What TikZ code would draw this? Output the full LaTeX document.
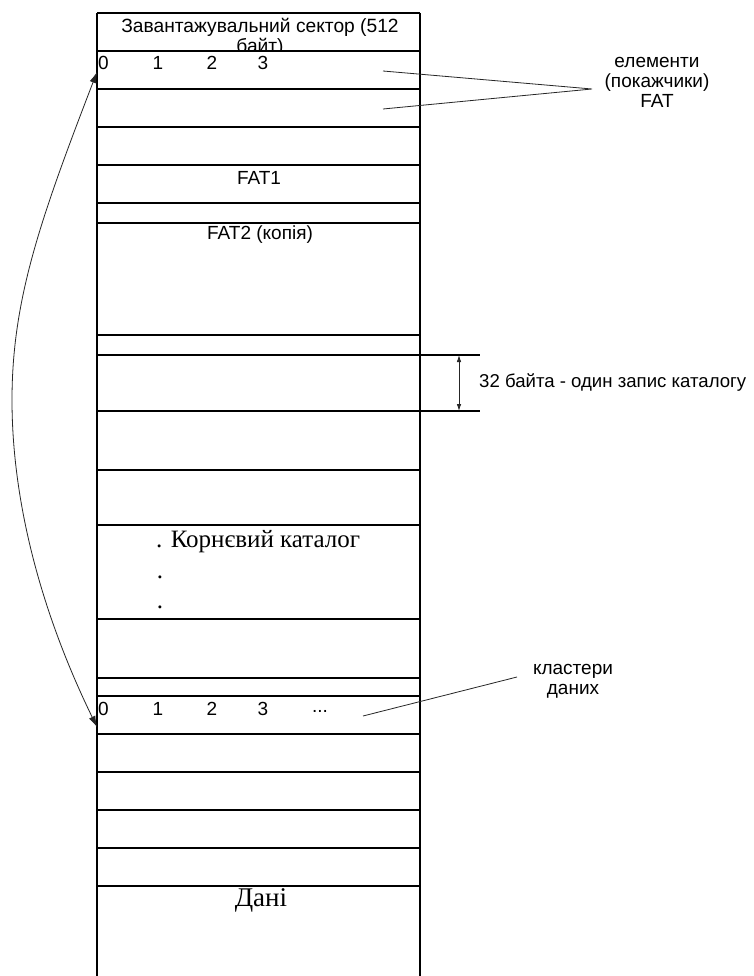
\documentclass[tikz,border=0pt]{standalone}
\usepackage{fontspec}
\setmainfont{Liberation Sans}
\newfontfamily\serifcyr{Liberation Serif}
\usetikzlibrary{arrows.meta}
\begin{document}
\begin{tikzpicture}[x=1pt,y=-1pt,
  cellline/.style={line width=1.2pt, draw=black},
  lbl/.style={inner sep=0pt, font=\fontsize{19}{20}\selectfont},
  big/.style={inner sep=0pt, font=\serifcyr\fontsize{25}{28}\selectfont},
  pointer/.style={line width=0.8pt, draw=black!85},
  bigtip/.tip={Latex[length=11pt,width=7pt]},
  smalltip/.tip={Latex[length=7pt,width=4.5pt]},
]
\useasboundingbox (0,0) rectangle (754,976);
\fill[white] (0,0) rectangle (754,976);
% header text, clipped to its cell
\begin{scope}
\clip (97,13) rectangle (420,51);
\node[lbl, align=center, font=\fontsize{19.2}{20}\selectfont] (boot) at (260,37) {Завантажувальний сектор (512\\байт)};
\end{scope}
% column
\draw[cellline] (97,13) -- (97,990) (420,13) -- (420,990);
\foreach \yy in {13,51,89,127,165,203,223,335,355,411,470,525,619,678,696,734,772,810,848,886}
  \draw[cellline] (97,\yy) -- (420,\yy);
\draw[cellline] (420,355) -- (480,355) (420,411) -- (480,411);
% texts in column
\node[lbl, anchor=west] (n0) at (98,63) {0};
\node[lbl] (n1) at (158,63) {1};
\node[lbl] (n2) at (212,63) {2};
\node[lbl] (n3) at (263,63) {3};
\node[lbl] (fat1) at (259,178) {FAT1};
\node[lbl] (fat2) at (260,235) {FAT2 (копія)};
\node[big, anchor=west] (root) at (156,542) {. Корнєвий каталог};
\node[big] (dot1) at (160,577) {.};
\node[big] (dot2) at (160,607) {.};
\node[lbl, anchor=west] (m0) at (98,709) {0};
\node[lbl] (m1) at (158,709) {1};
\node[lbl] (m2) at (212,709) {2};
\node[lbl] (m3) at (263,709) {3};
\node[lbl] (mdots) at (320,711) {...};
\node[big, font=\serifcyr\fontsize{27}{28}\selectfont] (data) at (261,900) {Дані};
% right labels
\node[lbl, align=center] (fatlbl) at (657,82) {елементи\\(покажчики)\\FAT};
\node[lbl, anchor=west, font=\fontsize{18.6}{20}\selectfont] (reclbl) at (479,383) {32 байта - один запис каталогу};
\node[lbl, align=center] (clulbl) at (573,681) {кластери\\даних};
% pointers
\coordinate (e1) at (383,71);
\coordinate (e2) at (383,109);
\coordinate (ep) at (592,89);
\draw[pointer] (e1) -- (ep) -- (e2);
\coordinate (d1) at (363,716);
\coordinate (dp) at (517,677);
\draw[pointer] (d1) -- (dp);
\coordinate (rtop) at (459,355);
\coordinate (rbot) at (459,411);
\draw[pointer, smalltip-smalltip] (rtop) -- (rbot);
\coordinate (ctop) at (97,72);
\coordinate (cmid) at (12,400);
\coordinate (cbot) at (97,727);
\draw[pointer, bigtip-bigtip] (ctop) .. controls (40,220) and (12,300) .. (cmid)
  .. controls (12,500) and (40,610) .. (cbot);
\end{tikzpicture}
\end{document}
